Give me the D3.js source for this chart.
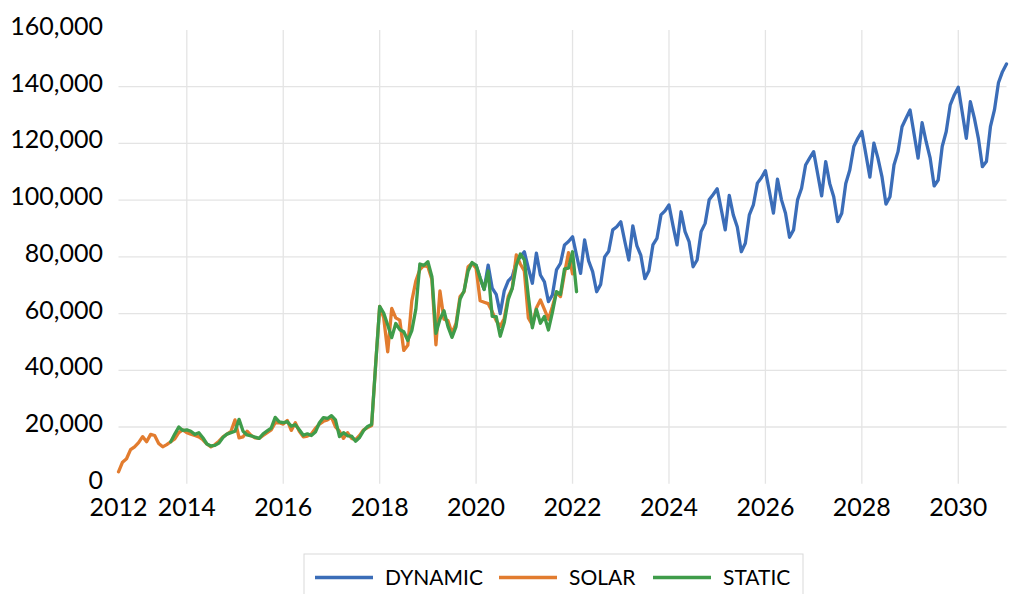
<!DOCTYPE html>
<html lang="en">
    <head>
        <meta charset="utf-8">
        <title>Dynamic / Solar / Static</title>
        <script type="text/javascript" src="https://d3js.org/d3.v7.min.js"></script>
        <style type="text/css">
            body { margin: 0; background: #fff; }
            text { font-family: Lato, "Open Sans", sans-serif; fill: #000; }
        </style>
    </head>
    <body>
        <script type="text/javascript">

        //Data - monthly, first month is Jul 2012
        const startYear = 2012;
        const startMonth = 7;

        const solar = [4200,7600,8800,12000,13000,14500,16600,14800,17400,17000,
            14200,13000,13800,14800,15800,18000,19000,18000,17500,17000,
            16500,15500,14000,13000,13800,15000,16500,17500,18500,22500,
            16200,16500,18500,17000,16200,16000,17000,18000,19000,21500,
            21500,21000,22300,18800,21500,18500,16500,16800,17500,19500,
            21000,22000,22500,23500,20000,18500,16000,18000,16000,15500,
            17000,19000,19800,20500,42000,62500,58500,46500,61800,58500,
            57700,47000,48800,64500,71500,75500,77000,76500,72000,49000,
            68000,58000,57500,53000,56500,66000,67700,76500,77700,76000,
            64500,64000,63500,60700,57500,55500,58300,66000,69000,80700,
            77500,75000,58500,56000,62000,64800,61500,58000,62500,67500,
            66000,74200,81500,74000];

        //static starts at month 13 (Aug 2013)
        const staticStart = 13;
        const staticVals = [14800,17500,20000,18800,19000,18500,17400,
            18000,16200,14000,13300,13500,14300,16300,17500,18000,18500,
            22700,18500,17200,16900,16400,16000,17600,18600,19600,23400,
            21800,21500,21900,20300,20800,19000,17100,17600,17000,18200,
            21500,23300,23000,24000,22500,16600,18000,16900,16800,15000,
            16300,18700,20200,20900,42000,62500,60200,56000,51500,56500,
            54300,53600,50500,54000,61500,77500,77000,78300,73000,53000,
            58000,61000,55400,51600,55400,65000,68000,75000,78000,77000,
            72500,68500,75000,59000,58900,52000,56800,65000,68900,77000,
            81000,79000,66000,55000,61500,56600,59000,54200,60500,67700,
            66800,75800,76000,81800,67700];

        //dynamic starts at month 89 (Dec 2019)
        const dynamicStart = 89;
        const dynamic = [77000,
            72500,68500,77100,69000,66800,60000,68000,71500,73000,78000,80000,81800,
            76000,70700,81300,73600,71200,64200,66600,75400,77700,84200,85400,87100,
            80500,74200,86000,78600,74800,67700,70300,80000,82000,89500,90600,92400,
            85500,78900,90900,84000,80500,72300,75100,84200,86500,94800,96200,98300,
            91000,84200,95900,88900,85400,76500,78900,88900,91800,100100,102000,104000,
            96800,89500,101700,94800,90500,81800,84800,94800,98300,106000,107900,110400,
            103000,95400,107400,100100,95400,86900,89500,100100,104200,112400,114800,117100,
            109300,101500,113600,105900,101200,92400,95400,105900,110600,118900,121800,124200,
            116200,108100,120100,114800,108300,98600,101200,112400,117100,125900,128900,131800,
            123300,114800,127300,120600,114800,105000,107100,118900,124200,133600,137100,139800,
            130800,121800,134700,128900,121800,111800,113600,125900,131800,141400,145300,148000];

        const seriesNames = ["DYNAMIC", "SOLAR", "STATIC"];
        const seriesColors = ["#3b6db8", "#e27c2f", "#3f9c4a"];
        const yTicks = [0,20000,40000,60000,80000,100000,120000,140000,160000];
        const xTickYears = [2014,2016,2018,2020,2022,2024,2026,2028,2030];

        //month index -> fractional year (end of month)
        const monthToYear = i => {
            const m = startMonth - 1 + i;
            return startYear + Math.floor(m / 12) + ((m % 12) + 1) / 12;
        };

        const toPoints = (vals, offset) => vals.map((v, k) => ({t: monthToYear(offset + k), v: v}));

        const series = [
            toPoints(dynamic, dynamicStart),
            toPoints(solar, 0),
            toPoints(staticVals, staticStart)
        ];

        const width = 1018;
        const height = 594;
        const plotLeft = 118.5, plotRight = 1006.5, plotTop = 30, plotBottom = 483.7;

        const xMin = monthToYear(0);
        const xMax = monthToYear(dynamicStart + dynamic.length - 1);

        const xScale = d3.scaleLinear()
                        .domain([xMin, xMax])
                        .range([plotLeft, plotRight]);

        const yScale = d3.scaleLinear()
                        .domain([0, 160000])
                        .range([plotBottom, plotTop]);

        const svg = d3.select("body")
                    .append("svg")
                    .attr("width", width)
                    .attr("height", height);

        svg.append("rect").attr("width", width).attr("height", height).attr("fill", "#fff");

        //gridlines
        svg.append("g")
            .selectAll("line")
            .data(yTicks.filter(d => d > 0 && d < 160000))
            .enter()
            .append("line")
            .attr("x1", plotLeft).attr("x2", plotRight)
            .attr("y1", d => yScale(d)).attr("y2", d => yScale(d))
            .attr("stroke", "#e4e4e4").attr("stroke-width", 1.3);

        svg.append("g")
            .selectAll("line")
            .data(xTickYears)
            .enter()
            .append("line")
            .attr("x1", d => xScale(d)).attr("x2", d => xScale(d))
            .attr("y1", plotTop).attr("y2", plotBottom)
            .attr("stroke", "#e4e4e4").attr("stroke-width", 1.3);

        //y labels
        const fmt = d3.format(",");
        svg.append("g")
            .selectAll("text")
            .data(yTicks)
            .enter()
            .append("text")
            .attr("x", 103)
            .attr("y", d => yScale(d) - 4)
            .attr("dy", "0.36em")
            .attr("text-anchor", "end")
            .attr("font-size", 25)
            .text(d => fmt(d));

        //x labels (first one sits at the axis start)
        const xLabels = [{t: xMin, label: String(startYear)}].concat(xTickYears.map(y => ({t: y, label: String(y)})));
        svg.append("g")
            .selectAll("text")
            .data(xLabels)
            .enter()
            .append("text")
            .attr("x", d => xScale(d.t))
            .attr("y", 516)
            .attr("text-anchor", "middle")
            .attr("font-size", 25)
            .text(d => d.label);

        //lines
        const line = d3.line()
                        .x(d => xScale(d.t))
                        .y(d => yScale(d.v));

        svg.append("g")
            .selectAll("path")
            .data(series)
            .enter()
            .append("path")
            .attr("d", d => line(d))
            .attr("fill", "none")
            .attr("stroke", (d, i) => seriesColors[i])
            .attr("stroke-width", 3.3)
            .attr("stroke-linejoin", "round")
            .attr("stroke-linecap", "round");

        //legend
        const legend = svg.append("g");
        legend.append("rect")
            .attr("x", 304).attr("y", 554)
            .attr("width", 499).attr("height", 60)
            .attr("fill", "#fff")
            .attr("stroke", "#d9d9d9").attr("stroke-width", 1);

        const legendX = [315, 499, 653];
        seriesNames.forEach((name, i) => {
            legend.append("line")
                .attr("x1", legendX[i]).attr("x2", legendX[i] + 58)
                .attr("y1", 577.5).attr("y2", 577.5)
                .attr("stroke", seriesColors[i])
                .attr("stroke-width", 3.3);
            legend.append("text")
                .attr("x", legendX[i] + 70)
                .attr("y", 577)
                .attr("dy", "0.36em")
                .attr("font-size", 21)
                .text(name);
        });

        </script>
    </body>
</html>
